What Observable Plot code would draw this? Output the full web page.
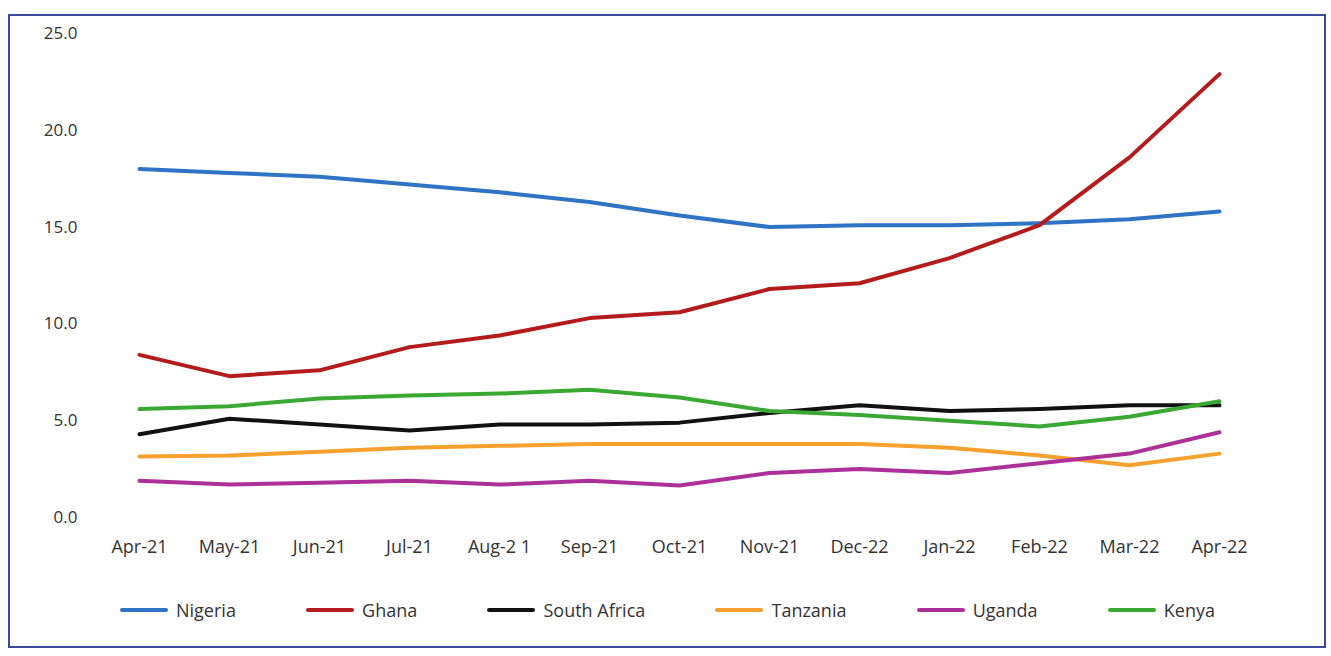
<!DOCTYPE html>
<html>
<head>
<meta charset="utf-8">
<script src="https://cdn.jsdelivr.net/npm/d3@7"></script>
<script src="https://cdn.jsdelivr.net/npm/@observablehq/plot@0.6"></script>
<style>
  html, body { margin: 0; padding: 0; background: #fff; }
  body { width: 1331px; height: 656px; position: relative; overflow: hidden; font-family: "Open Sans", "Noto Sans", sans-serif; }
  #frame { position: absolute; left: 8px; top: 14px; width: 1318px; height: 634px; border: 2px solid #3a48a0; box-sizing: border-box; pointer-events: none; }
  #chart { position: absolute; left: 0; top: 0; }
  #legend { position: absolute; left: 120px; top: 598px; width: 1095px; display: flex; justify-content: space-between; align-items: center; font-size: 18px; color: #333; }
  .item { display: flex; align-items: center; gap: 8px; }
  .sw { width: 48px; height: 4px; border-radius: 2px; }
</style>
</head>
<body>
<div id="chart"></div>
<div id="legend"></div>
<div id="frame"></div>
<script>
const months = ["Apr-21","May-21","Jun-21","Jul-21","Aug-2 1","Sep-21","Oct-21","Nov-21","Dec-22","Jan-22","Feb-22","Mar-22","Apr-22"];
const countries = ["Nigeria","Ghana","South Africa","Tanzania","Uganda","Kenya"];
const colors = ["#2f74c4","#b41c1c","#111111","#f6a02e","#ad2f98","#3aa934"];
const nigeria     = [18.0,17.8,17.6,17.2,16.8,16.3,15.6,15.0,15.1,15.1,15.2,15.4,15.8];
const ghana       = [8.4,7.3,7.6,8.8,9.4,10.3,10.6,11.8,12.1,13.4,15.1,18.6,22.9];
const southAfrica = [4.3,5.1,4.8,4.5,4.8,4.8,4.9,5.4,5.8,5.5,5.6,5.8,5.8];
const tanzania    = [3.15,3.2,3.4,3.6,3.7,3.8,3.8,3.8,3.8,3.6,3.2,2.7,3.3];
const uganda      = [1.9,1.7,1.8,1.9,1.7,1.9,1.65,2.3,2.5,2.3,2.8,3.3,4.4];
const kenya       = [5.6,5.75,6.15,6.3,6.4,6.6,6.2,5.5,5.3,5.0,4.7,5.2,6.0];
const yTicks = [0,5,10,15,20,25];

const seriesValues = [nigeria, ghana, southAfrica, tanzania, uganda, kenya];
const rows = [];
countries.forEach((c, i) => months.forEach((m, j) => rows.push({country: c, month: m, value: seriesValues[i][j]})));

const plot = Plot.plot({
  width: 1331,
  height: 580,
  marginTop: 33,
  marginBottom: 63,
  marginLeft: 138,
  marginRight: 111,
  style: { fontFamily: "'Open Sans', 'Noto Sans', sans-serif", color: "#333", background: "transparent" },
  x: { type: "point", domain: months, padding: 0, label: null },
  y: { domain: [0, 25], label: null },
  color: { domain: countries, range: colors },
  marks: [
    Plot.axisY({ ticks: yTicks, tickFormat: d => d.toFixed(1), tickSize: 0, tickPadding: 61, fontSize: 17, label: null }),
    Plot.axisX({ tickSize: 0, tickPadding: 23, fontSize: 18, label: null }),
    Plot.line(rows, { x: "month", y: "value", z: "country", stroke: "country", strokeWidth: 4, strokeLinecap: "round", strokeLinejoin: "round" })
  ]
});
document.getElementById("chart").appendChild(plot);

const legend = document.getElementById("legend");
countries.forEach((c, i) => {
  const item = document.createElement("div");
  item.className = "item";
  const sw = document.createElement("div");
  sw.className = "sw";
  sw.style.background = colors[i];
  const t = document.createElement("span");
  t.textContent = c;
  item.appendChild(sw);
  item.appendChild(t);
  legend.appendChild(item);
});
</script>
</body>
</html>
